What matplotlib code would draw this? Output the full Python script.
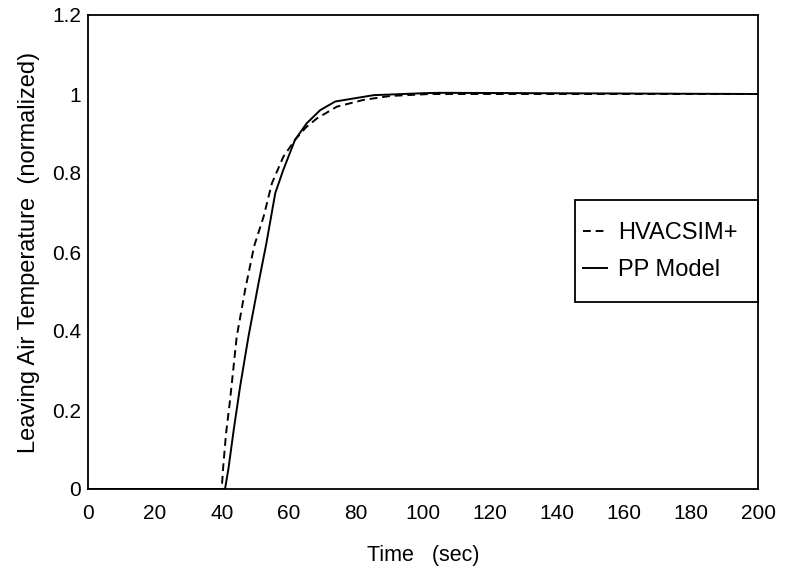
import matplotlib
matplotlib.use("Agg")
import matplotlib.pyplot as plt
from matplotlib.patches import Rectangle

plt.rcParams['font.family'] = ['Liberation Sans', 'DejaVu Sans']

# Data
hvac_t = [0, 39.9, 40.4, 41.2, 42.4, 44.4, 46.9, 49.6, 52.4, 54.9, 58.3, 61.8, 65.0, 68.3, 74.3, 82.2, 90.2, 102.0, 200]
hvac_v = [0, 0, 0.06, 0.14, 0.225, 0.386, 0.504, 0.615, 0.689, 0.774, 0.841, 0.884, 0.915, 0.938, 0.968, 0.985, 0.995, 1.0, 1.0]

pp_t = [0, 40.9, 41.3, 41.9, 43.5, 45.4, 47.9, 50.9, 53.2, 55.9, 58.3, 61.8, 65.3, 69.3, 73.8, 85.2, 100.0, 105.0, 200]
pp_v = [0, 0, 0.02, 0.05, 0.15, 0.259, 0.386, 0.521, 0.62, 0.749, 0.808, 0.884, 0.926, 0.959, 0.981, 0.997, 1.002, 1.003, 1.0]

xticks = [0, 20, 40, 60, 80, 100, 120, 140, 160, 180, 200]
yticks = [0, 0.2, 0.4, 0.6, 0.8, 1.0, 1.2]
ytick_labels = ["0", "0.2", "0.4", "0.6", "0.8", "1", "1.2"]

W, H = 789, 571
fig = plt.figure(figsize=(W / 100, H / 100), dpi=100)
L, R, T, B = 88, 758, 15, 489
ax = fig.add_axes([L / W, 1 - B / H, (R - L) / W, (B - T) / H])

def fx(px):
    return (px - L) / (R - L)

def fy(py):
    return (B - py) / (B - T)

ax.plot(hvac_t, hvac_v, color='black', lw=1.4, dashes=(4, 2.5), label='HVACSIM+')
ax.plot(pp_t, pp_v, color='black', lw=1.4, label='PP Model')

ax.set_xlim(0, 200)
ax.set_ylim(0, 1.2)
ax.set_xticks(xticks)
ax.set_xticklabels([str(x) for x in xticks])
ax.set_yticks(yticks)
ax.set_yticklabels(ytick_labels)
ax.tick_params(axis='both', length=0, labelsize=15)
ax.tick_params(axis='x', pad=11)
ax.tick_params(axis='y', pad=5)
for s in ax.spines.values():
    s.set_linewidth(1.3)
    s.set_color('black')

ax.set_xlabel('Time   (sec)', fontsize=15.5, va='center')
ax.xaxis.set_label_coords(0.5, fy(555))
ax.set_ylabel('Leaving Air Temperature  (normalized)', fontsize=17, va='center', ha='center')
ax.yaxis.set_label_coords(fx(29), 0.5)

leg = ax.legend(loc='upper left', bbox_to_anchor=(fx(583), fy(222)),
                fontsize=17, handlelength=1.02, handletextpad=0.47,
                borderpad=0.0, labelspacing=0.64, borderaxespad=0.0,
                frameon=False)
ax.add_patch(Rectangle((fx(575), fy(302)), 1.0 - fx(575), fy(200) - fy(302),
                       transform=ax.transAxes, fill=False, edgecolor='black',
                       linewidth=1.3, clip_on=False, zorder=4))

fig.savefig('out.png', dpi=100)
